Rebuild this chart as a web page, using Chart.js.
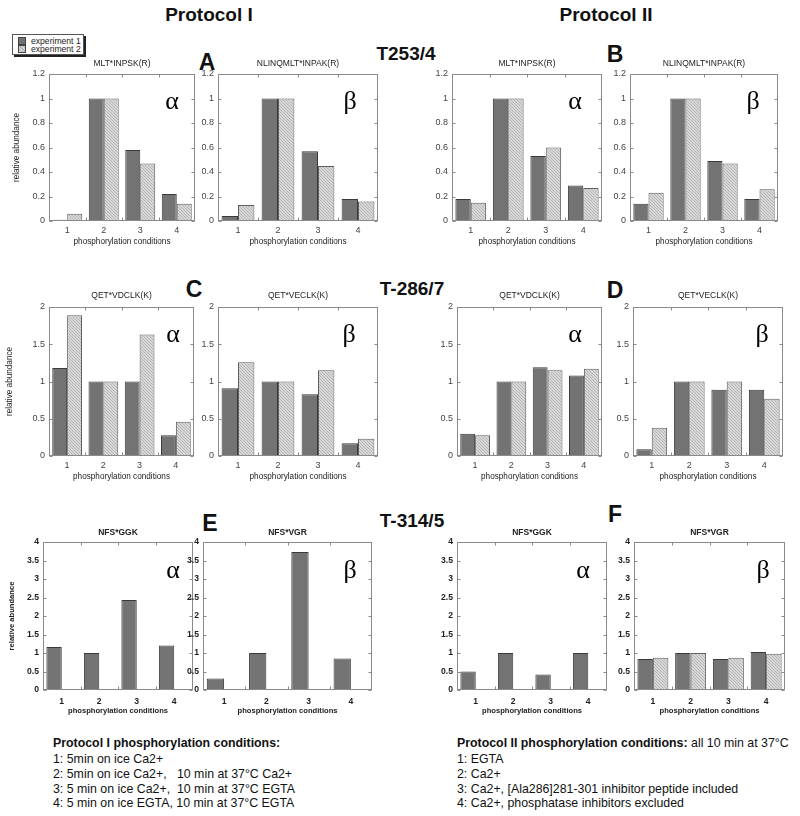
<!DOCTYPE html>
<html>
<head>
<meta charset="utf-8">
<script src="https://cdn.jsdelivr.net/npm/chart.js@4.4.1/dist/chart.umd.min.js"></script>
<style>
  html, body { margin:0; padding:0; background:#fff; }
  #stage { position:relative; width:800px; height:816px; overflow:hidden; font-family:"Liberation Sans", Arial, sans-serif; color:#111; }
  .abs { position:absolute; white-space:nowrap; line-height:1; }
  .c { transform:translate(-50%,-50%); }
  canvas { position:absolute; }
  .hdr { font-weight:bold; font-size:19px; }
  .let { font-weight:bold; font-size:23px; }
  .tl { font-weight:bold; font-size:19px; }
  .ptitle { font-size:8.5px; color:#222; }
  .ptitle.b { font-weight:bold; }
  .greek { font-family:"Liberation Serif", "DejaVu Serif", serif; font-size:26px; transform:translateX(-50%); color:#000; }
  .note { font-size:13.5px; transform:scaleX(0.915); transform-origin:left center; color:#111; }
  .legend { position:absolute; left:12px; top:34px; width:70px; height:19px; border:1px solid #555; background:#fff; box-shadow:2px 2px 0 #222; }
  .sq { position:absolute; width:6px; height:6px; border:1px solid #444; }
  .lt { position:absolute; font-size:8.6px; line-height:1; color:#222; }
</style>
</head>
<body>
<div id="stage">
  <div class="abs c hdr" style="left:209px;top:14px;">Protocol I</div>
  <div class="abs c hdr" style="left:606px;top:14px;">Protocol II</div>

  <div class="legend">
    <div class="sq" style="left:5px;top:2px;background:#727272;"></div>
    <div class="lt" style="left:18px;top:1.5px;">experiment 1</div>
    <div class="sq" style="left:5px;top:10px;background:repeating-linear-gradient(45deg,#d6d6d6 0 1.5px,#b4b4b4 1.5px 2.5px);"></div>
    <div class="lt" style="left:18px;top:9.5px;">experiment 2</div>
  </div>

  <div class="abs c let" style="left:207px;top:62px;">A</div>
  <div class="abs c tl" style="left:406px;top:53px;">T253/4</div>
  <div class="abs c let" style="left:615px;top:54px;">B</div>

  <div class="abs c let" style="left:194px;top:289px;">C</div>
  <div class="abs c tl" style="left:412px;top:288px;">T-286/7</div>
  <div class="abs c let" style="left:615px;top:290px;">D</div>

  <div class="abs c let" style="left:210px;top:523px;">E</div>
  <div class="abs c tl" style="left:412px;top:520px;">T-314/5</div>
  <div class="abs c let" style="left:615px;top:514px;">F</div>
</div>

<script>
// ---------- DATA ----------
const categories = ['1', '2', '3', '4'];

// T253/4 — Protocol I (panel A)
const aAlphaExp1 = [0.01, 1.00, 0.58, 0.22];
const aAlphaExp2 = [0.06, 1.00, 0.47, 0.14];
const aBetaExp1  = [0.04, 1.00, 0.57, 0.18];
const aBetaExp2  = [0.13, 1.00, 0.45, 0.16];
// T253/4 — Protocol II (panel B)
const bAlphaExp1 = [0.18, 1.00, 0.53, 0.29];
const bAlphaExp2 = [0.15, 1.00, 0.60, 0.27];
const bBetaExp1  = [0.14, 1.00, 0.49, 0.18];
const bBetaExp2  = [0.23, 1.00, 0.47, 0.26];
// T-286/7 — Protocol I (panel C)
const cAlphaExp1 = [1.18, 1.00, 1.00, 0.28];
const cAlphaExp2 = [1.89, 1.00, 1.63, 0.46];
const cBetaExp1  = [0.91, 1.00, 0.83, 0.17];
const cBetaExp2  = [1.26, 1.00, 1.15, 0.23];
// T-286/7 — Protocol II (panel D)
const dAlphaExp1 = [0.30, 1.00, 1.19, 1.08];
const dAlphaExp2 = [0.28, 1.00, 1.15, 1.17];
const dBetaExp1  = [0.09, 1.00, 0.89, 0.89];
const dBetaExp2  = [0.38, 1.00, 1.00, 0.77];
// T-314/5 — Protocol I (panel E): experiment 1 only
const eAlphaExp1 = [1.16, 1.00, 2.43, 1.20];
const eBetaExp1  = [0.31, 1.00, 3.73, 0.85];
// T-314/5 — Protocol II (panel F)
const fAlphaExp1 = [0.50, 1.00, 0.42, 1.00];
const fBetaExp1  = [0.84, 1.00, 0.84, 1.03];
const fBetaExp2  = [0.87, 1.00, 0.87, 0.98];
const noExp2     = [null, null, null, null];

const seriesNames = ['experiment 1', 'experiment 2'];
const peptideTitles = {
  a1: 'MLT*INPSK(R)', a2: 'NLINQMLT*INPAK(R)',
  c1: 'QET*VDCLK(K)', c2: 'QET*VECLK(K)',
  e1: 'NFS*GGK',      e2: 'NFS*VGR'
};
const yTickMax  = [1.2, 2, 4];
const yTickStep = [0.2, 0.5, 0.5];
const xAxisTitle = 'phosphorylation conditions';
const yAxisTitle = 'relative abundance';

const protocol1Notes = [
  '1: 5min on ice Ca2+',
  '2: 5min on ice Ca2+,\u00a0\u00a0\u00a010 min at 37\u00b0C Ca2+',
  '3: 5 min on ice Ca2+,\u00a0\u00a010 min at 37\u00b0C EGTA',
  '4: 5 min on ice EGTA, 10 min at 37\u00b0C EGTA'
];
const protocol2Notes = [
  '1: EGTA',
  '2: Ca2+',
  '3: Ca2+, [Ala286]281-301 inhibitor peptide included',
  '4: Ca2+, phosphatase inhibitors excluded'
];

// ---------- LAYOUT ----------
const rows = [
  { top: 74,  h: 147, xh: 26, tickPad: 4, yTitlePad: 12, bold: false, titleY: 63,  greekBase: 110,
    cols: [[49,195],[218,378],[452,602],[630,778]] },
  { top: 307, h: 149, xh: 26, tickPad: 4, yTitlePad: 5,  bold: false, titleY: 295, greekBase: 343,
    cols: [[49,194],[218,378],[457,602],[633,783]] },
  { top: 542, h: 148, xh: 25, tickPad: 6, yTitlePad: 7,  bold: true,  titleY: 532, greekBase: 579,
    cols: [[43,193],[203,372],[457,607],[634,785]] }
];
const greekX = [[172,350,575,753],[173,349,575,762],[173,350,583,763]];

const panels = [
  [ [aAlphaExp1,aAlphaExp2,'a1','α'], [aBetaExp1,aBetaExp2,'a2','β'], [bAlphaExp1,bAlphaExp2,'a1','α'], [bBetaExp1,bBetaExp2,'a2','β'] ],
  [ [cAlphaExp1,cAlphaExp2,'c1','α'], [cBetaExp1,cBetaExp2,'c2','β'], [dAlphaExp1,dAlphaExp2,'c1','α'], [dBetaExp1,dBetaExp2,'c2','β'] ],
  [ [eAlphaExp1,noExp2,'e1','α'],     [eBetaExp1,noExp2,'e2','β'],     [fAlphaExp1,noExp2,'e1','α'],     [fBetaExp1,fBetaExp2,'e2','β'] ]
];

// fine hatch pattern for experiment 2
function makeHatch() {
  const c = document.createElement('canvas');
  c.width = 3; c.height = 3;
  const g = c.getContext('2d');
  g.fillStyle = '#d9d9d9';
  g.fillRect(0, 0, 3, 3);
  g.fillStyle = '#b3b3b3';
  g.fillRect(0, 0, 1, 1);
  g.fillRect(1, 1, 1, 1);
  g.fillRect(2, 2, 1, 1);
  return g.createPattern(c, 'repeat');
}
const hatch = makeHatch();

const framePlugin = {
  id: 'frame',
  afterDatasetsDraw(chart) {
    const { ctx, chartArea: a, scales: { x, y } } = chart;
    ctx.save();
    ctx.strokeStyle = '#8a8a8a';
    ctx.lineWidth = 1;
    const L = Math.round(a.left) + 0.5, R = Math.round(a.right) - 0.5;
    const T = Math.round(a.top) + 0.5, B = Math.round(a.bottom) - 0.5;
    ctx.strokeRect(L, T, R - L, B - T);
    ctx.beginPath();
    y.ticks.forEach((t, i) => {
      const py = Math.round(y.getPixelForTick(i)) + 0.5;
      ctx.moveTo(L, py); ctx.lineTo(L + 3, py);
      ctx.moveTo(R, py); ctx.lineTo(R - 3, py);
    });
    for (let i = 1; i < x.ticks.length; i++) {
      const px = Math.round((x.getPixelForTick(i - 1) + x.getPixelForTick(i)) / 2) + 0.5;
      ctx.moveTo(px, B); ctx.lineTo(px, B - 3);
      ctx.moveTo(px, T); ctx.lineTo(px, T + 3);
    }
    ctx.stroke();
    ctx.restore();
  }
};

const stage = document.getElementById('stage');
const PT = 12, PR = 6, YW_OTHER = 30;

rows.forEach((row, r) => {
  row.cols.forEach((col, ci) => {
    const [p1, p2, tkey, greek] = panels[r][ci];
    const plotLeft = col[0], plotW = col[1] - col[0];
    const first = ci === 0;
    const YW = first ? plotLeft : YW_OTHER;
    const cv = document.createElement('canvas');
    const W = YW + plotW + PR, H = PT + row.h + row.xh;
    cv.width = W; cv.height = H;
    cv.style.width = W + 'px'; cv.style.height = H + 'px';
    cv.style.left = (plotLeft - YW) + 'px';
    cv.style.top = (row.top - PT) + 'px';
    stage.appendChild(cv);

    const tickFont = row.bold ? { family: 'Liberation Sans', size: 8.6, weight: 'bold' }
                              : { family: 'Liberation Sans', size: 9 };
    const titleFont = row.bold ? { family: 'Liberation Sans', size: 7.6, weight: 'bold' }
                               : { family: 'Liberation Sans', size: 8.2 };
    const tickColor = row.bold ? '#222' : '#444';

    new Chart(cv, {
      type: 'bar',
      data: {
        labels: categories,
        datasets: [
          { label: seriesNames[0], data: p1, backgroundColor: '#737373', borderColor: '#3a3a3a', borderWidth: 1 },
          { label: seriesNames[1], data: p2, backgroundColor: hatch, borderColor: '#5e5e5e', borderWidth: 1 }
        ]
      },
      options: {
        responsive: false,
        animation: false,
        layout: { padding: { top: PT, right: PR, left: 0, bottom: 0 } },
        datasets: { bar: { categoryPercentage: 0.82, barPercentage: 1.0 } },
        plugins: { legend: { display: false }, tooltip: { enabled: false }, title: { display: false } },
        scales: {
          x: {
            grid: { display: false, drawTicks: false },
            border: { display: false },
            ticks: { font: tickFont, color: tickColor, padding: row.tickPad, maxRotation: 0 },
            title: { display: true, text: xAxisTitle, font: titleFont, color: '#222', padding: { top: 0, bottom: 0 } },
            afterFit: s => { s.height = row.xh; }
          },
          y: {
            min: 0, max: yTickMax[r],
            grid: { display: false, drawTicks: false },
            border: { display: false },
            ticks: {
              stepSize: yTickStep[r], font: tickFont, color: tickColor, padding: 4,
              callback: v => String(parseFloat(Number(v).toFixed(2)))
            },
            title: { display: first, text: yAxisTitle, font: titleFont, color: '#222', padding: { top: row.yTitlePad, bottom: 0 } },
            afterFit: s => { s.width = YW; }
          }
        }
      },
      plugins: [framePlugin]
    });

    const t = document.createElement('div');
    t.className = 'abs c ptitle' + (row.bold ? ' b' : '');
    t.style.left = (plotLeft + plotW / 2) + 'px';
    t.style.top = row.titleY + 'px';
    t.textContent = peptideTitles[tkey];
    stage.appendChild(t);

    const g = document.createElement('div');
    g.className = 'abs greek';
    g.style.left = greekX[r][ci] + 'px';
    g.style.top = (row.greekBase - 22) + 'px';
    g.textContent = greek;
    stage.appendChild(g);
  });
});

// notes under the charts
const noteYs = [743, 759, 774, 789, 803];
function addNote(x, y, html) {
  const d = document.createElement('div');
  d.className = 'abs note';
  d.style.left = x + 'px';
  d.style.top = (y - 7) + 'px';
  d.innerHTML = html;
  stage.appendChild(d);
}
addNote(53, noteYs[0], '<b>Protocol I phosphorylation conditions:</b>');
protocol1Notes.forEach((s, i) => addNote(53, noteYs[i + 1], s));
addNote(457, noteYs[0], '<b>Protocol II phosphorylation conditions:</b> all 10 min at 37\u00b0C');
protocol2Notes.forEach((s, i) => addNote(457, noteYs[i + 1], s));
</script>
</body>
</html>
